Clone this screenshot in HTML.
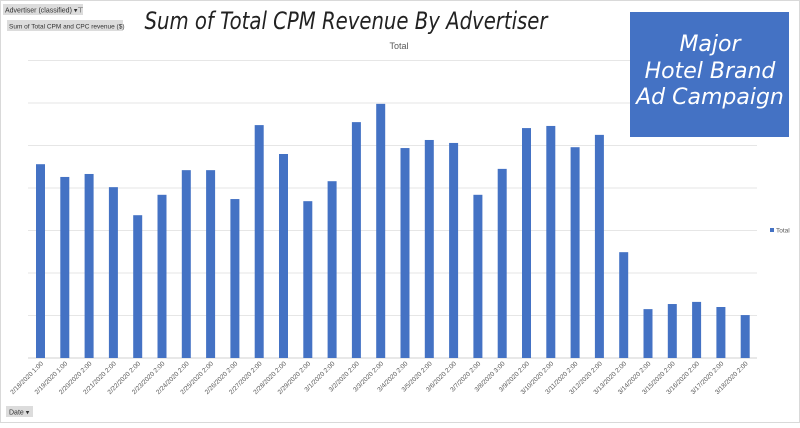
<!DOCTYPE html>
<html><head><meta charset="utf-8"><style>
body{margin:0;background:#fff;width:800px;height:423px;overflow:hidden;font-family:"Liberation Sans",sans-serif}
</style></head><body>
<svg width="800" height="423" xmlns="http://www.w3.org/2000/svg">
<rect x="0.5" y="0.5" width="799" height="422" fill="#fff" stroke="#d9d9d9"/>
<g>
<rect x="3" y="4" width="80" height="11" fill="#dcdcdc"/>
<text x="5" y="12.5" font-size="7" fill="#333">Advertiser (classified) ▾⊤</text></g>
<g>
<rect x="7" y="20" width="116" height="11" fill="#dcdcdc"/>
<text x="9" y="28.5" font-size="6.5" fill="#333">Sum of Total CPM and CPC revenue ($)</text></g>
<text x="346" y="29" font-size="24" font-style="italic" text-anchor="middle" fill="#222" font-family="DejaVu Sans, sans-serif" textLength="403" lengthAdjust="spacingAndGlyphs">Sum of Total CPM Revenue By Advertiser</text>
<text x="399" y="49" font-size="9" text-anchor="middle" fill="#595959">Total</text>
<g id="grid"></g>
<g id="bars"></g>
<g id="xlabels"></g>
<g>
<rect x="630" y="12" width="159" height="125" fill="#4472C4"/>
<text x="710" y="51" font-size="22" font-style="italic" fill="#fff" text-anchor="middle" font-family="DejaVu Sans, sans-serif">Major</text>
<text x="710" y="78" font-size="22" font-style="italic" fill="#fff" text-anchor="middle" font-family="DejaVu Sans, sans-serif">Hotel Brand</text>
<text x="710" y="104" font-size="22" font-style="italic" fill="#fff" text-anchor="middle" font-family="DejaVu Sans, sans-serif">Ad Campaign</text></g>
<g>
<rect x="770" y="228" width="4" height="4" fill="#4472C4"/>
<text x="776" y="232.5" font-size="6.5" fill="#595959">Total</text></g>
<g>
<rect x="6" y="406" width="27" height="11" fill="#dcdcdc"/>
<text x="9" y="414.5" font-size="7" fill="#333">Date ▾</text></g>
</svg>
<script>
const categories=["2/18/2020 1:00","2/19/2020 1:00","2/20/2020 2:00","2/21/2020 2:00","2/22/2020 2:00","2/23/2020 2:00","2/24/2020 2:00","2/25/2020 2:00","2/26/2020 2:00","2/27/2020 2:00","2/28/2020 2:00","2/29/2020 2:00","3/1/2020 2:00","3/2/2020 2:00","3/3/2020 2:00","3/4/2020 2:00","3/5/2020 2:00","3/6/2020 2:00","3/7/2020 2:00","3/8/2020 3:00","3/9/2020 2:00","3/10/2020 2:00","3/11/2020 2:00","3/12/2020 2:00","3/13/2020 2:00","3/14/2020 2:00","3/15/2020 2:00","3/16/2020 2:00","3/17/2020 2:00","3/18/2020 2:00"];
const values=[4.56,4.26,4.33,4.02,3.36,3.84,4.42,4.42,3.74,5.48,4.80,3.69,4.16,5.55,5.98,4.94,5.13,5.06,3.84,4.45,5.41,5.46,4.96,5.25,2.49,1.15,1.27,1.32,1.20,1.01];
const gridTicks=[0,1,2,3,4,5,6,7];
const NS="http://www.w3.org/2000/svg";
const x0=40.5,step=24.3,base=358,unit=42.5;
const xs=i=>x0+i*step, ys=v=>base-v*unit;
const g=document.getElementById('grid'),b=document.getElementById('bars'),xl=document.getElementById('xlabels');
gridTicks.forEach(t=>{const l=document.createElementNS(NS,'line');
l.setAttribute('x1',28);l.setAttribute('x2',757);l.setAttribute('y1',ys(t));l.setAttribute('y2',ys(t));
l.setAttribute('stroke',t===0?'#d0d0d0':'#e6e6e6');l.setAttribute('stroke-width',1);


g.appendChild(l);});
values.forEach((v,i)=>{const r=document.createElementNS(NS,'rect');
r.setAttribute('x',xs(i)-4.5);r.setAttribute('width',9);r.setAttribute('y',ys(v));r.setAttribute('height',v*unit);
r.setAttribute('fill','#4472C4');


b.appendChild(r);
const t=document.createElementNS(NS,'text');
t.setAttribute('transform','translate('+(xs(i)+3)+',364) rotate(-45)');
t.setAttribute('text-anchor','end');t.setAttribute('font-size','6.5');t.setAttribute('fill','#595959');
t.textContent=categories[i];


xl.appendChild(t);});
</script>
</body></html>
